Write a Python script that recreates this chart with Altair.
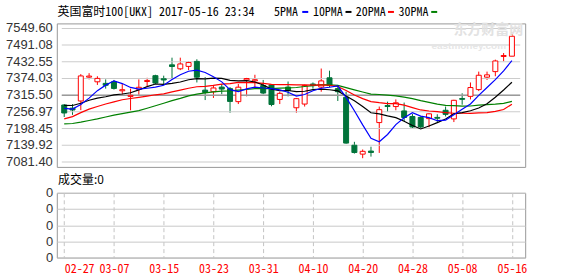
import altair as alt
import pandas as pd

# ---------------- data ----------------
dates = ["02-27", "02-28", "03-01", "03-02", "03-03", "03-06", "03-07", "03-08", "03-09", "03-10",
         "03-13", "03-14", "03-15", "03-16", "03-17", "03-20", "03-21", "03-22", "03-23", "03-24",
         "03-27", "03-28", "03-29", "03-30", "03-31", "04-03", "04-04", "04-05", "04-06", "04-07",
         "04-10", "04-11", "04-12", "04-13", "04-18", "04-19", "04-20", "04-21", "04-24", "04-25",
         "04-26", "04-27", "04-28", "05-01", "05-02", "05-03", "05-04", "05-05", "05-08", "05-09",
         "05-10", "05-11", "05-12", "05-15", "05-16"]

tick_labels = ["02-27", "03-07", "03-15", "03-23", "03-31", "04-10", "04-20", "04-28", "05-08", "05-16"]

price_ticks = [7081.40, 7139.92, 7198.45, 7256.97, 7315.50, 7374.03, 7432.55, 7491.08, 7549.60]

opens = [7281.0, 7270.0, 7295.0, 7378.6, 7362.3, 7356.8, 7362.3, 7330.8, 7311.0, 7336.3,
         7363.3, 7383.8, 7373.0, 7421.8, 7407.8, 7416.3, 7433.9, 7333.1, 7327.5, 7343.8,
         7338.3, 7292.7, 7368.8, 7365.6, 7349.3, 7351.3, 7300.5, 7343.8, 7271.3, 7284.3,
         7354.5, 7343.8, 7376.3, 7338.3, 7308.0, 7139.9, 7108.7, 7119.4, 7219.3, 7279.0,
         7275.5, 7260.2, 7240.7, 7237.5, 7233.2, 7237.5, 7262.5, 7232.2, 7303.8, 7311.3,
         7335.0, 7378.6, 7398.0, 7451.1, 7452.1]
highs = [7284.0, 7284.3, 7389.3, 7392.6, 7381.8, 7370.8, 7368.8, 7354.5, 7338.3, 7370.8,
         7376.3, 7387.0, 7383.8, 7446.9, 7446.9, 7433.9, 7441.3, 7378.6, 7351.3, 7354.5,
         7343.8, 7354.5, 7376.0, 7387.0, 7368.8, 7354.5, 7327.5, 7363.3, 7305.7, 7352.0,
         7360.0, 7408.8, 7401.3, 7351.3, 7327.5, 7151.9, 7125.0, 7134.7, 7275.5, 7292.7,
         7300.5, 7289.5, 7249.5, 7240.7, 7251.8, 7248.5, 7275.5, 7299.2, 7322.0, 7360.0,
         7398.0, 7398.0, 7440.0, 7463.1, 7535.6]
lows = [7238.8, 7246.3, 7263.0, 7370.8, 7351.3, 7338.3, 7335.0, 7316.8, 7262.5, 7314.5,
        7347.0, 7354.5, 7354.5, 7370.8, 7403.3, 7403.3, 7360.0, 7298.3, 7305.7, 7318.8,
        7253.7, 7284.3, 7311.3, 7343.8, 7318.8, 7276.5, 7284.3, 7311.3, 7253.7, 7275.5,
        7338.3, 7327.5, 7343.8, 7295.0, 7145.5, 7110.7, 7094.4, 7100.0, 7112.9, 7257.0,
        7262.5, 7224.5, 7197.5, 7197.5, 7203.0, 7219.3, 7240.7, 7221.2, 7282.0, 7300.5,
        7329.8, 7368.8, 7381.8, 7433.9, 7452.1]
closes = [7253.00, 7263.44, 7382.90, 7382.37, 7374.26, 7350.12, 7338.99, 7334.61, 7314.96, 7343.08,
          7367.08, 7357.85, 7368.64, 7415.95, 7424.96, 7429.81, 7378.34, 7324.72, 7340.71, 7336.82,
          7293.50, 7343.42, 7373.72, 7369.52, 7322.92, 7282.69, 7321.82, 7331.68, 7303.20, 7349.37,
          7348.99, 7365.50, 7348.94, 7327.59, 7147.50, 7114.36, 7118.54, 7114.55, 7264.68, 7275.64,
          7288.72, 7237.18, 7203.94, 7203.94, 7250.05, 7234.53, 7248.10, 7297.43, 7300.86, 7342.21,
          7385.24, 7386.63, 7435.39, 7454.37, 7522.03]

ma5 = [7269.0, 7266.8, 7282.9, 7305.1, 7331.2, 7350.6, 7365.7, 7356.1, 7342.6, 7336.4,
       7339.7, 7343.5, 7350.3, 7370.5, 7386.9, 7399.4, 7403.5, 7394.8, 7379.7, 7362.1,
       7334.8, 7327.8, 7337.6, 7343.4, 7340.6, 7338.5, 7334.1, 7325.7, 7312.5, 7317.8,
       7331.0, 7339.7, 7343.2, 7348.1, 7307.7, 7260.8, 7211.4, 7164.5, 7151.9, 7177.6,
       7212.4, 7236.2, 7254.0, 7241.9, 7236.8, 7225.9, 7228.1, 7246.8, 7266.2, 7284.6,
       7314.8, 7342.5, 7370.1, 7400.8, 7436.7]
ma10 = [7279.7, 7279.2, 7287.2, 7297.6, 7305.0, 7310.0, 7316.4, 7319.6, 7323.9, 7333.8,
        7345.2, 7354.6, 7353.2, 7356.6, 7361.6, 7369.6, 7373.5, 7372.5, 7375.1, 7374.5,
        7367.1, 7365.7, 7366.2, 7361.6, 7351.3, 7336.6, 7331.0, 7331.7, 7327.9, 7329.2,
        7334.7, 7336.9, 7334.5, 7330.3, 7312.7, 7295.9, 7275.6, 7253.9, 7250.0, 7242.6,
        7236.6, 7223.8, 7209.3, 7196.9, 7207.2, 7219.2, 7232.1, 7250.4, 7254.0, 7260.7,
        7270.3, 7285.3, 7308.4, 7333.5, 7360.7]
ma20 = [7232.2, 7240.4, 7254.2, 7266.3, 7275.6, 7284.5, 7292.1, 7299.4, 7303.7, 7307.9,
        7312.3, 7316.8, 7320.1, 7327.0, 7333.2, 7339.7, 7344.9, 7346.0, 7349.5, 7354.1,
        7356.2, 7360.2, 7359.7, 7359.1, 7356.5, 7353.1, 7352.3, 7352.1, 7351.5, 7351.8,
        7350.9, 7351.3, 7350.3, 7345.9, 7332.0, 7316.3, 7303.3, 7292.8, 7289.0, 7285.9,
        7285.7, 7280.4, 7271.9, 7263.6, 7259.9, 7257.5, 7253.9, 7252.1, 7252.0, 7251.7,
        7253.5, 7254.5, 7258.9, 7265.2, 7283.9]
ma30 = [7214.8, 7216.2, 7220.7, 7226.5, 7232.4, 7239.0, 7245.3, 7251.0, 7256.1, 7261.4,
        7269.7, 7278.3, 7287.0, 7296.2, 7304.1, 7312.7, 7319.1, 7323.6, 7327.3, 7329.9,
        7330.4, 7332.9, 7335.3, 7338.4, 7339.2, 7338.6, 7340.2, 7341.2, 7342.3, 7345.8,
        7349.0, 7352.4, 7351.3, 7349.5, 7341.9, 7334.0, 7326.7, 7319.4, 7317.7, 7315.4,
        7312.8, 7308.8, 7303.3, 7296.2, 7290.4, 7283.9, 7279.6, 7278.7, 7277.3, 7277.5,
        7280.6, 7282.0, 7284.1, 7286.9, 7293.5]
volumes = [0] * len(dates)

# ---------------- tables ----------------
df = pd.DataFrame({
    "i": list(range(len(dates))), "date": dates,
    "open": opens, "high": highs, "low": lows, "close": closes,
    "ma5": ma5, "ma10": ma10, "ma20": ma20, "ma30": ma30, "vol": volumes,
})
df["dir"] = ["up" if c >= o else "down" for o, c in zip(opens, closes)]

X_DOMAIN = [-0.2941, 55.0]
Y_DOMAIN = [price_ticks[0], price_ticks[-1]]

tick_idx = [dates.index(t) for t in tick_labels]
price_df = pd.DataFrame({"p": price_ticks})
one = pd.DataFrame({"k": [0]})
# grid segments as thin bars (same mark type as the candle bodies)
hbar_df = pd.DataFrame({"p": price_ticks, "gx0": X_DOMAIN[0], "gx1": X_DOMAIN[1]})
mid_df = hbar_df[hbar_df["p"] == price_ticks[4]]

RED = "#ff0000"
GREEN = "#00733a"
MONO = "Noto Sans Mono CJK SC, Noto Sans CJK SC, monospace"
CJK = "Noto Sans CJK SC"
W, H, HV = 470, 144, 65

label_expr = "[" + ",".join("'%s'" % d for d in dates) + "][datum.value]"

xs = alt.Scale(domain=X_DOMAIN, nice=False, zero=False)
ys = alt.Scale(domain=Y_DOMAIN, nice=False, zero=False)


def X(field="i"):
    return alt.X(field + ":Q", scale=xs, axis=None, title=None)


def Y(field):
    return alt.Y(field + ":Q", scale=ys, axis=None, title=None)


bounds_rect = alt.Chart(one).mark_rect(opacity=0).encode(
    x=alt.value(-56), x2=alt.value(522), y=alt.value(-22), y2=alt.value(254))

hbars = alt.Chart(hbar_df).mark_bar(size=1, color="#cccccc").encode(
    x=X("gx0"), x2="gx1:Q", y=Y("p"))
midbar = alt.Chart(mid_df).mark_bar(size=1.5, color="#9a9a9a").encode(
    x=X("gx0"), x2="gx1:Q", y=Y("p"))

ylabels = alt.Chart(price_df).mark_text(align="right", baseline="middle", font="Liberation Sans",
                                        fontSize=13, color="#333333").encode(
    y=Y("p"), x=alt.value(-4), text=alt.Text("p:Q", format=".2f"))

stroke_enc = alt.Stroke("dir:N", scale=alt.Scale(domain=["up", "down"], range=[RED, GREEN]), legend=None)
fill_enc = alt.Fill("dir:N", scale=alt.Scale(domain=["up", "down"], range=["#ffffff", GREEN]), legend=None)

# the wick layer carries the grid of the price panel (axis grid, no labels)
wicks = alt.Chart(df).mark_rule(strokeWidth=1).encode(
    x=alt.X("i:Q", scale=xs, title=None,
            axis=alt.Axis(values=tick_idx, labels=False, ticks=False, domain=False, grid=True,
                          gridDash=[4, 3], gridColor="#c4c4c4", title=None)),
    y=alt.Y("low:Q", scale=ys, title=None,
            axis=alt.Axis(values=price_ticks, labels=False, ticks=False, domain=False, grid=True,
                          gridColor="#cccccc", title=None)),
    y2="high:Q", stroke=stroke_enc)

bodies = alt.Chart(df).mark_bar(size=5, strokeWidth=1, fillOpacity=1).encode(
    x=X(), y=Y("open"), y2="close:Q", stroke=stroke_enc, fill=fill_enc)

lines = []
for field, col in [("ma30", "#008000"), ("ma20", RED), ("ma10", "#000000"), ("ma5", "#0000ff")]:
    lines.append(alt.Chart(df).mark_line(color=col, strokeWidth=1.2).encode(x=X(), y=Y(field)))


def txt(s, x, y, font=MONO, size=12, color="#000000", weight="normal"):
    return alt.Chart(one).mark_text(align="left", baseline="middle", font=font, fontSize=size,
                                    color=color, fontWeight=weight).encode(
        x=alt.value(x), y=alt.value(y), text=alt.value(s))


def dash(x, col):
    return alt.Chart(one).mark_rect(color=col).encode(
        x=alt.value(x), x2=alt.value(x + 6), y=alt.value(-12.5), y2=alt.value(-10.5))


texts = [
    txt("东方财富网", 398, 7.0, font=CJK, size=14, color="#e2e2e2", weight="bold"),
    txt("eastmoney.com", 376, 22.5, font="Liberation Sans", size=10, color="#e6e6e6", weight="bold"),
    txt("英国富时100[UKX] 2017-05-16 23:34", 0.7, -11),
    txt("5PMA", 218, -11), dash(246.3, "#0000ff"),
    txt("10PMA", 257, -11), dash(289.7, "#000000"),
    txt("20PMA", 300, -11), dash(332.3, RED),
    txt("30PMA", 343, -11), dash(375.7, "#008000"),
    txt("成交量:0", 1.3, 157.3, font=CJK),
]

top = alt.layer(wicks, bounds_rect, hbars, midbar, ylabels, bodies, *lines, *texts).properties(
    width=W, height=H)

vol = alt.Chart(df).mark_bar(size=5, color=RED).encode(
    x=alt.X("i:Q", scale=xs, title=None,
            axis=alt.Axis(values=tick_idx, labelExpr=label_expr, labelColor=RED, labelFont=MONO,
                          labelFontSize=12, labelAlign=alt.ExprRef(expr="datum.value == 0 ? 'left' : 'center'"),
                          labelBaseline="middle", labelPadding=11, ticks=False, domain=False,
                          grid=True, gridDash=[4, 3], gridColor="#c4c4c4", labelOverlap=False,
                          labelBound=False, labelFlush=False, title=None)),
    y=alt.Y("vol:Q", scale=alt.Scale(domain=[0, 4], nice=False, zero=True), title=None,
            axis=alt.Axis(values=[0, 1, 2, 3, 4], labelExpr="'0'", grid=True, gridColor="#c8c8c8",
                          ticks=False, domain=False, labelFont="Liberation Sans", labelFontSize=13,
                          labelColor="#333333", labelPadding=4, labelFlush=False, labelBound=False,
                          labelOverlap=False, title=None)),
).properties(width=W, height=HV)

chart = alt.vconcat(top, vol, spacing=26, bounds="flush").properties(
    padding=0, background="#ffffff"
).configure_view(stroke="#999999", strokeWidth=1)

chart.save("out.html", embed_options={"renderer": "svg", "actions": False})
